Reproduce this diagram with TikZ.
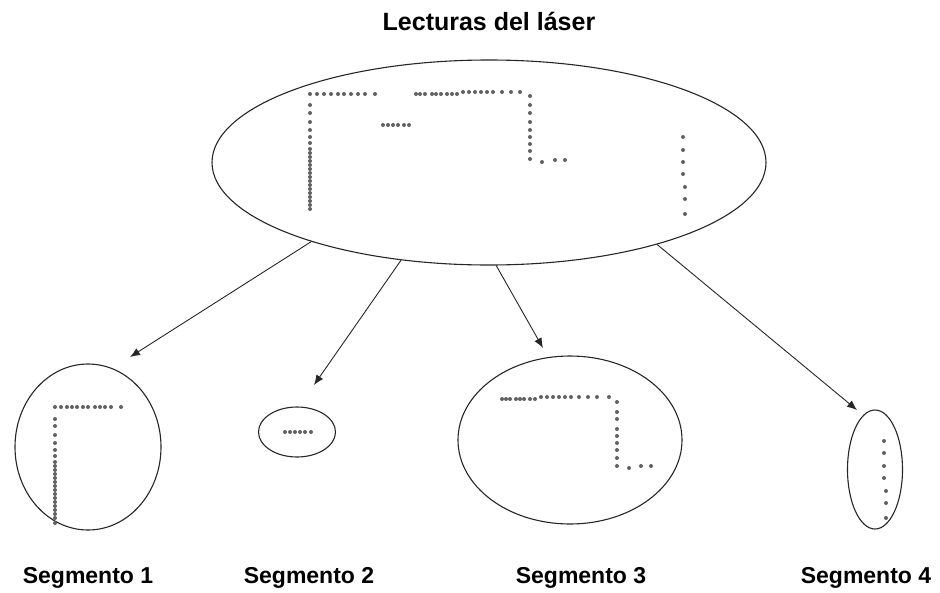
\documentclass[tikz,border=0pt]{standalone}
\usepackage{fontspec}
\setmainfont{Liberation Sans}
\usetikzlibrary{shapes.geometric,arrows.meta}
\begin{document}
\begin{tikzpicture}[x=1pt,y=-1pt,
  blob/.style={draw=black!85,line width=1.1pt,ellipse,inner sep=0pt},
  ttl/.style={font=\fontsize{25}{28}\selectfont\bfseries,inner sep=0pt},
  lbl/.style={font=\fontsize{23}{26}\selectfont\bfseries,inner sep=0pt},
  conn/.style={draw=black!85,line width=0.9pt,-{Latex[length=10pt,width=8pt]}},
  pt/.style={fill=black!62}]
\useasboundingbox (0,0) rectangle (940,592);
% title
\node[ttl] (title) at (489,21) {Lecturas del láser};
% ellipses
\node[blob,minimum width=554pt,minimum height=205pt] (top) at (489,162.5) {};
\node[blob,minimum width=146pt,minimum height=166pt] (s1) at (88,447) {};
\node[blob,minimum width=77pt,minimum height=50pt] (s2) at (297,432) {};
\node[blob,minimum width=224pt,minimum height=168pt] (s3) at (570,440) {};
\node[blob,minimum width=55pt,minimum height=119pt] (s4) at (875,469.5) {};
% labels
\node[lbl] (l1) at (88,578) {Segmento 1};
\node[lbl] (l2) at (309,578) {Segmento 2};
\node[lbl] (l3) at (581,578) {Segmento 3};
\node[lbl] (l4) at (866,578) {Segmento 4};
% arrow ends
\coordinate (e1) at (130,357);
\coordinate (e2) at (314,385);
\coordinate (e3) at (543,348);
\coordinate (e4) at (857,410);
\draw[conn] (top.204.5) -- (e1);
\draw[conn] (top.228.2) -- (e2);
\draw[conn] (top.274.5) -- (e3);
\draw[conn] (top.334.2) -- (e4);
% ---- dots in the top ellipse
\foreach \x in {310,317,324,331,338,344,351,358,365,375}
  \fill[pt] (\x,94) circle (2);
\foreach \y in {105,113,122,130,137,143,149,153,157,161,165,169,173,177,181,185,189,193,197,201,205,209}
  \fill[pt] (310,\y) circle (2);
\foreach \x in {383,388,393,398,404,409}
  \fill[pt] (\x,125) circle (2);
\foreach \x in {416,420,425,432,436,441,447,452,457}
  \fill[pt] (\x,94) circle (2);
\foreach \x in {463,469,475,481,487,493,502,511,520}
  \fill[pt] (\x,92) circle (2);
\foreach \y in {96,105,113,122,130,137,144,151,159}
  \fill[pt] (530,\y) circle (2);
\fill[pt] (542,162) circle (2);
\fill[pt] (555,160) circle (2);
\fill[pt] (565,160) circle (2);
\foreach \y/\x in {137/683,150/683,162/683,174/683,187/685,199/685,214/685}
  \fill[pt] (\x,\y) circle (2);
% ---- segment 1
\foreach \x in {55,61,67,72,77,83,88,95,100,105,111,121}
  \fill[pt] (\x,407) circle (2);
\foreach \y in {419,426,435,443,450,456,462,466,470,474,478,482,486,490,494,498,502,506,510,514,518,523}
  \fill[pt] (55,\y) circle (2);
% ---- segment 2
\foreach \x in {285,290,295,300,305,311}
  \fill[pt] (\x,432) circle (2);
% ---- segment 3
\foreach \x in {502,506,510,516,520,524,530,535}
  \fill[pt] (\x,399) circle (2);
\foreach \x in {541,547,553,559,565,571,579,588,597,609}
  \fill[pt] (\x,397) circle (2);
\foreach \y in {402,412,419,429,436,443,450,458,466}
  \fill[pt] (617,\y) circle (2);
\fill[pt] (629,468) circle (2);
\fill[pt] (641,466) circle (2);
\fill[pt] (651,466) circle (2);
% ---- segment 4
\foreach \y/\x in {441/884,453/884,466/884,478/884,491/886,503/886,518/886}
  \fill[pt] (\x,\y) circle (2);
\end{tikzpicture}
\end{document}
